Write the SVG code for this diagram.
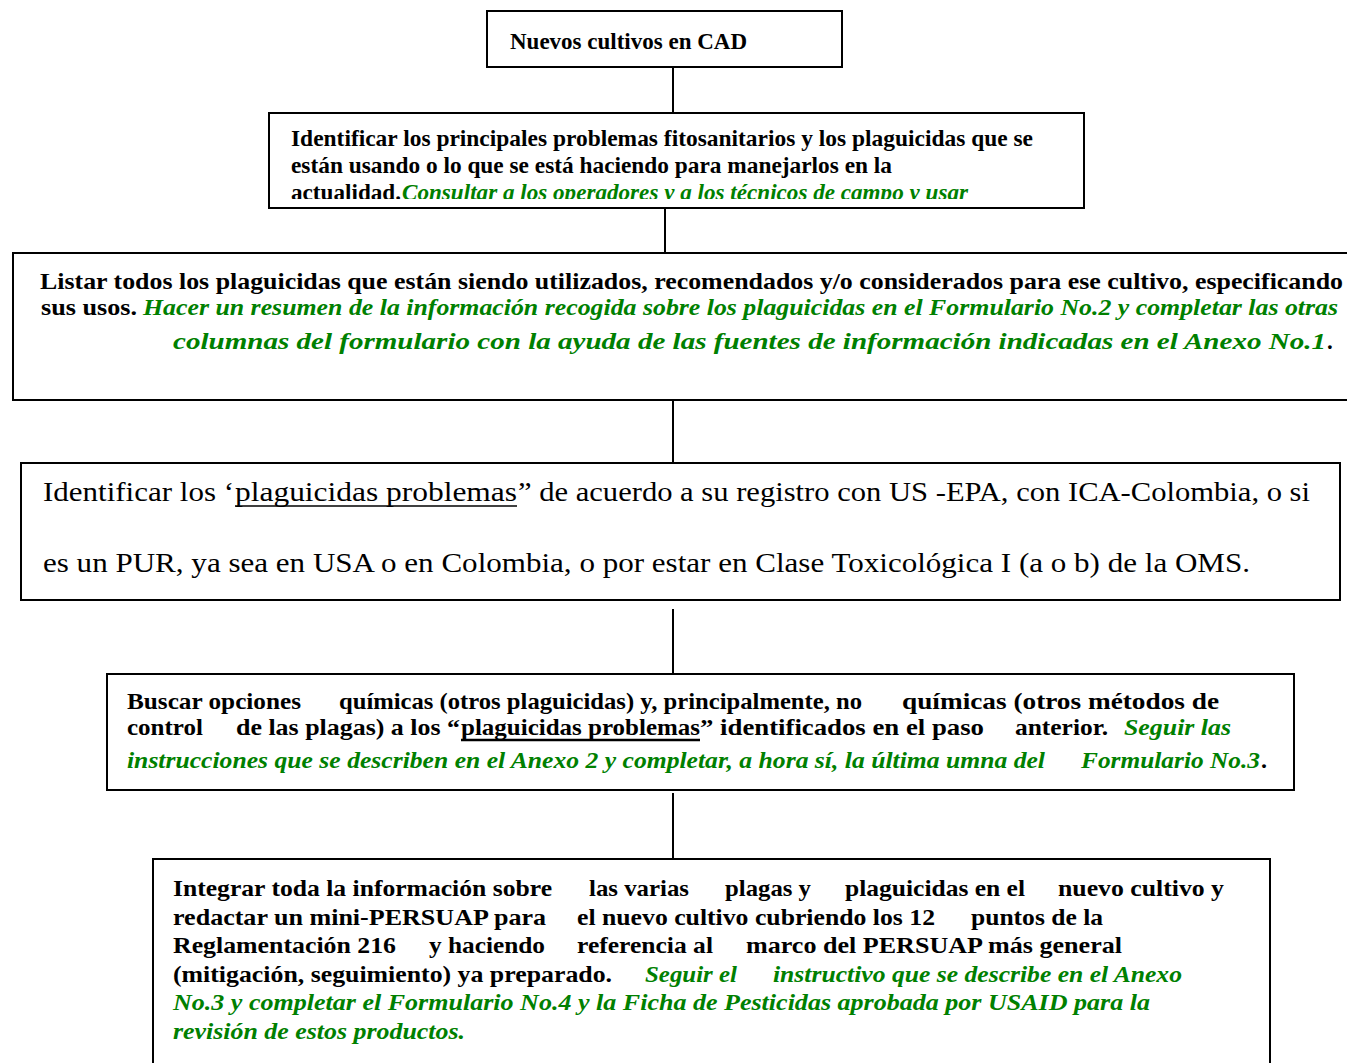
<svg xmlns="http://www.w3.org/2000/svg" width="1347" height="1063" viewBox="0 0 1347 1063" font-family="'Liberation Serif', 'Times New Roman', serif">
<style>
.box{fill:#fff;stroke:#000;stroke-width:2}
.con{stroke:#000;stroke-width:2;fill:none}
text{font-family:'Liberation Serif', 'Times New Roman', serif}
.b{font-weight:bold;font-size:23px;fill:#000}
.g{font-weight:bold;font-style:italic;font-size:23px;fill:#008000}
.r{font-size:28px;fill:#000}
.s24{font-size:24px}
.ul{stroke:#000;fill:none}
</style>
<defs>
<clipPath id="clip2"><rect x="269" y="113" width="815" height="86"/></clipPath>
</defs>
<g id="connectors">
<line class="con" x1="673" y1="67" x2="673" y2="113"/>
<line class="con" x1="665" y1="208" x2="665" y2="253"/>
<line class="con" x1="673" y1="400" x2="673" y2="463"/>
<line class="con" x1="673" y1="609" x2="673" y2="674"/>
<line class="con" x1="673" y1="793" x2="673" y2="859"/>
</g>
<g id="n1">
<rect class="box" x="487" y="11" width="355" height="56"/>
<text class="b" x="510" y="49">Nuevos cultivos en CAD</text>
</g>
<g id="n2">
<rect class="box" x="269" y="113" width="815" height="95"/>
<text class="b" x="291" y="146" textLength="742" lengthAdjust="spacingAndGlyphs">Identificar los principales problemas fitosanitarios y los plaguicidas que se</text>
<text class="b" x="291" y="173" textLength="601" lengthAdjust="spacingAndGlyphs">están usando o lo que se está haciendo para manejarlos en la</text>
<g clip-path="url(#clip2)">
<text class="b" x="291" y="200" textLength="110" lengthAdjust="spacingAndGlyphs">actualidad.</text>
<text class="g" x="402" y="200" textLength="566" lengthAdjust="spacingAndGlyphs">Consultar a los operadores y a los técnicos de campo y usar</text>
</g>
</g>
<g id="n3">
<rect class="box" x="13" y="253" width="1345" height="147"/>
<text class="b" x="40" y="289" textLength="1303" lengthAdjust="spacingAndGlyphs">Listar todos los plaguicidas que están siendo utilizados, recomendados y/o considerados para ese cultivo, especificando</text>
<text class="b" x="41" y="315" textLength="96" lengthAdjust="spacingAndGlyphs">sus usos.</text>
<text class="g" x="143" y="315" textLength="1195" lengthAdjust="spacingAndGlyphs">Hacer un resumen de la información recogida sobre los plaguicidas en el Formulario No.2 y completar las otras</text>
<text class="g" x="173" y="349" textLength="1153" lengthAdjust="spacingAndGlyphs">columnas del formulario con la ayuda de las fuentes de información indicadas en el Anexo No.1</text>
<text class="b" x="1327" y="349">.</text>
</g>
<g id="n4">
<rect class="box" x="21" y="463" width="1319" height="137"/>
<text class="r" x="43" y="501" textLength="191" lengthAdjust="spacingAndGlyphs">Identificar los ‘</text>
<text class="r" x="235" y="501" textLength="282" lengthAdjust="spacingAndGlyphs">plaguicidas problemas</text>
<line class="ul" x1="235" y1="506" x2="517" y2="506" stroke-width="1.5"/>
<text class="r" x="518" y="501" textLength="792" lengthAdjust="spacingAndGlyphs">” de acuerdo a su registro con US -EPA, con ICA-Colombia, o si</text>
<text class="r" x="43" y="572" textLength="1207" lengthAdjust="spacingAndGlyphs">es un PUR, ya sea en USA o en Colombia, o por estar en Clase Toxicológica I (a o b) de la OMS.</text>
</g>
<g id="n5">
<rect class="box" x="107" y="674" width="1187" height="116"/>
<text class="b s24" x="127" y="709" textLength="174" lengthAdjust="spacingAndGlyphs">Buscar opciones</text>
<text class="b s24" x="339" y="709" textLength="523" lengthAdjust="spacingAndGlyphs">químicas (otros plaguicidas) y, principalmente, no</text>
<text class="b s24" x="902" y="709" textLength="317" lengthAdjust="spacingAndGlyphs">químicas (otros métodos de</text>
<text class="b s24" x="127" y="735" textLength="76" lengthAdjust="spacingAndGlyphs">control</text>
<text class="b s24" x="236" y="735" textLength="224" lengthAdjust="spacingAndGlyphs">de las plagas) a los “</text>
<text class="b s24" x="461" y="735" textLength="239" lengthAdjust="spacingAndGlyphs">plaguicidas problemas</text>
<line class="ul" x1="461" y1="740" x2="700" y2="740" stroke-width="2.5"/>
<text class="b s24" x="700" y="735" textLength="284" lengthAdjust="spacingAndGlyphs">” identificados en el paso</text>
<text class="b s24" x="1015" y="735" textLength="93" lengthAdjust="spacingAndGlyphs">anterior.</text>
<text class="g s24" x="1124" y="735" textLength="107" lengthAdjust="spacingAndGlyphs">Seguir las</text>
<text class="g s24" x="127" y="768" textLength="918" lengthAdjust="spacingAndGlyphs">instrucciones que se describen en el Anexo 2 y completar, a hora sí, la última umna del</text>
<text class="g s24" x="1081" y="768" textLength="179" lengthAdjust="spacingAndGlyphs">Formulario No.3</text>
<text class="b s24" x="1261" y="768">.</text>
</g>
<g id="n6">
<rect class="box" x="153" y="859" width="1117" height="215"/>
<text class="b s24" x="173" y="896" textLength="379" lengthAdjust="spacingAndGlyphs">Integrar toda la información sobre</text>
<text class="b s24" x="589" y="896" textLength="100" lengthAdjust="spacingAndGlyphs">las varias</text>
<text class="b s24" x="725" y="896" textLength="86" lengthAdjust="spacingAndGlyphs">plagas y</text>
<text class="b s24" x="845" y="896" textLength="180" lengthAdjust="spacingAndGlyphs">plaguicidas en el</text>
<text class="b s24" x="1058" y="896" textLength="166" lengthAdjust="spacingAndGlyphs">nuevo cultivo y</text>
<text class="b s24" x="173" y="925" textLength="373" lengthAdjust="spacingAndGlyphs">redactar un mini-PERSUAP para</text>
<text class="b s24" x="577" y="925" textLength="358" lengthAdjust="spacingAndGlyphs">el nuevo cultivo cubriendo los 12</text>
<text class="b s24" x="971" y="925" textLength="132" lengthAdjust="spacingAndGlyphs">puntos de la</text>
<text class="b s24" x="173" y="953" textLength="223" lengthAdjust="spacingAndGlyphs">Reglamentación 216</text>
<text class="b s24" x="429" y="953" textLength="116" lengthAdjust="spacingAndGlyphs">y haciendo</text>
<text class="b s24" x="577" y="953" textLength="136" lengthAdjust="spacingAndGlyphs">referencia al</text>
<text class="b s24" x="746" y="953" textLength="376" lengthAdjust="spacingAndGlyphs">marco del PERSUAP más general</text>
<text class="b s24" x="173" y="982" textLength="439" lengthAdjust="spacingAndGlyphs">(mitigación, seguimiento) ya preparado.</text>
<text class="g s24" x="645" y="982" textLength="92" lengthAdjust="spacingAndGlyphs">Seguir el</text>
<text class="g s24" x="773" y="982" textLength="409" lengthAdjust="spacingAndGlyphs">instructivo que se describe en el Anexo</text>
<text class="g s24" x="173" y="1010" textLength="977" lengthAdjust="spacingAndGlyphs">No.3 y completar el Formulario No.4 y  la Ficha de Pesticidas aprobada por USAID para la</text>
<text class="g s24" x="173" y="1039" textLength="292" lengthAdjust="spacingAndGlyphs">revisión de estos productos.</text>
</g>
</svg>
